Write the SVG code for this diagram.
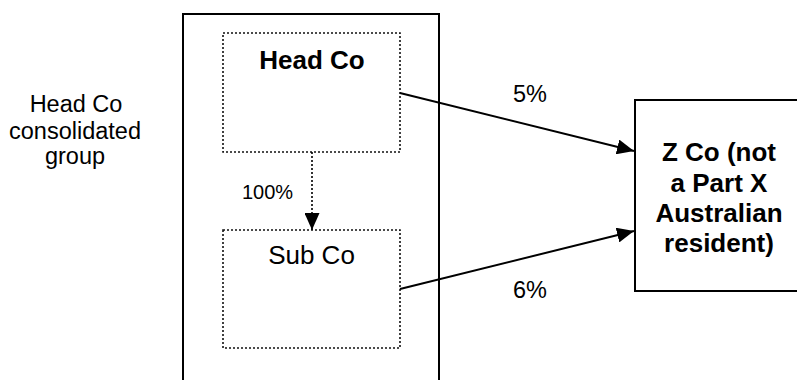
<svg xmlns="http://www.w3.org/2000/svg" width="797" height="380" viewBox="0 0 797 380">
  <style>
    text { font-family: "Liberation Sans", Arial, sans-serif; fill: #000; }
    .bold { font-weight: bold; font-size: 26px; }
    .lbl { font-size: 23.5px; }
    .pct { font-size: 23.5px; }
    .small { font-size: 20px; }
    .solid { fill: #fff; stroke: #000; stroke-width: 2; }
    .dotted { fill: none; stroke: #111; stroke-width: 1.6; stroke-dasharray: 2 2; }
    .conn { fill: none; stroke: #000; stroke-width: 2; }
    .dconn { fill: none; stroke: #000; stroke-width: 1.6; stroke-dasharray: 2 2; }
  </style>
  <defs>
    <marker id="arr" markerUnits="userSpaceOnUse" markerWidth="18" markerHeight="15" refX="17" refY="7.5" orient="auto">
      <path d="M0,0 L17,7.5 L0,15 z" fill="#000"/>
    </marker>
  </defs>
  <rect width="797" height="380" fill="#fff"/>

  <g id="group-label">
    <text class="lbl" text-anchor="middle" x="76" y="112">Head Co</text>
    <text class="lbl" text-anchor="middle" x="75" y="139">consolidated</text>
    <text class="lbl" text-anchor="middle" x="75" y="164">group</text>
  </g>

  <g id="consolidated-group">
    <rect class="solid" x="183" y="14" width="256" height="380"/>
  </g>

  <g id="head-co">
    <rect class="dotted" x="223" y="33" width="177" height="119"/>
    <text class="bold" text-anchor="middle" x="312" y="69">Head Co</text>
  </g>

  <g id="sub-co">
    <rect class="dotted" x="223" y="230" width="177" height="118"/>
    <text class="lbl" style="font-size:26px" text-anchor="middle" x="311.5" y="264">Sub Co</text>
  </g>

  <g id="z-co">
    <rect class="solid" x="635" y="100" width="170" height="191"/>
    <text class="bold" text-anchor="middle" x="719" y="161">Z Co (not</text>
    <text class="bold" text-anchor="middle" x="719" y="192">a Part X</text>
    <text class="bold" text-anchor="middle" x="719" y="222">Australian</text>
    <text class="bold" text-anchor="middle" x="719" y="252">resident)</text>
  </g>

  <g id="connectors">
    <line class="dconn" x1="312" y1="152" x2="312" y2="230" marker-end="url(#arr)"/>
    <line class="conn" x1="400" y1="93" x2="634" y2="151" marker-end="url(#arr)"/>
    <line class="conn" x1="400" y1="289" x2="634" y2="231" marker-end="url(#arr)"/>
    <text class="small" text-anchor="middle" x="267.5" y="199">100%</text>
    <text class="pct" text-anchor="middle" x="530" y="102">5%</text>
    <text class="pct" text-anchor="middle" x="530" y="298">6%</text>
  </g>
</svg>
